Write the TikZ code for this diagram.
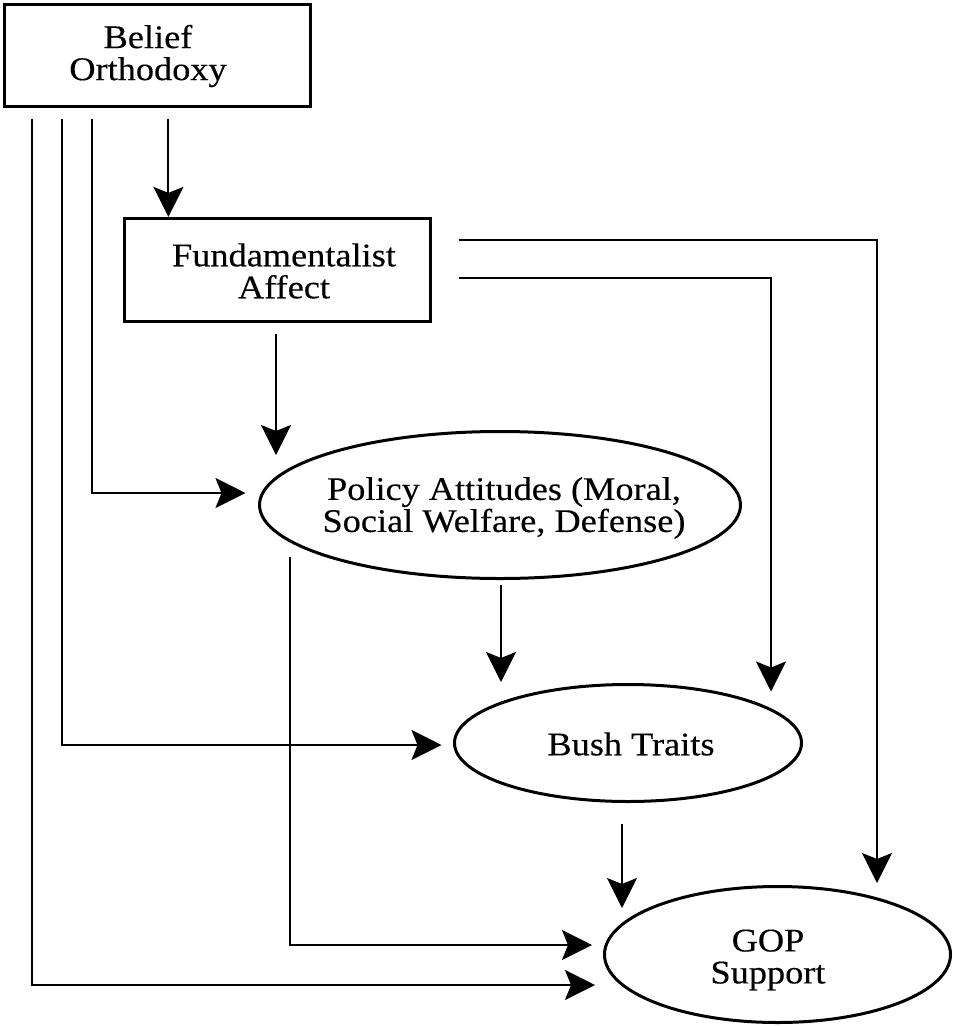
\documentclass[tikz,border=0pt]{standalone}
\usepackage{fontspec}
\setmainfont{Liberation Serif}[FakeStretch=1.1,FakeBold=0.3]
\usetikzlibrary{arrows.meta,shapes.geometric,calc}
\begin{document}
\begin{tikzpicture}[x=1pt,y=-1pt,
  box/.style={draw,line width=3.2pt,rectangle,inner sep=0pt},
  ell/.style={draw,line width=3pt,ellipse,inner sep=0pt},
  lbl/.style={align=center,font=\fontsize{33}{32}\selectfont,inner sep=0pt},
  arr/.style={line width=2pt,-{Stealth[length=30pt,width=30pt,inset=6pt]}},
  ln/.style={line width=2pt}]
\useasboundingbox (0,0) rectangle (953,1026);
% nodes
\node[box,minimum width=306pt,minimum height=102pt] (bo) at (157.5,55.5) {};
\node[lbl] (bot) at (148,56) {Belief\\Orthodoxy};
\node[box,minimum width=306pt,minimum height=103pt] (fa) at (277.5,270) {};
\node[lbl] (fat) at (284,271) {Fundamentalist\\Affect};
\node[ell,minimum width=481pt,minimum height=147pt] (pa) at (500,505) {};
\node[lbl] (pat) at (504,508) {Policy Attitudes (Moral,\\Social Welfare, Defense)};
\node[ell,minimum width=347pt,minimum height=117pt] (bt) at (628,743) {};
\node[lbl] (btt) at (631,744) {Bush Traits};
\node[ell,minimum width=346pt,minimum height=136pt] (gop) at (777.5,954.5) {};
\node[lbl] (gopt) at (768,960) {GOP\\Support};
% start coordinates
\coordinate (b1) at ($(bo.south west)+(29.5,10.5)$);
\coordinate (b2) at ($(bo.south west)+(59.5,10.5)$);
\coordinate (b3) at ($(bo.south west)+(89.5,10.5)$);
\coordinate (b4) at ($(bo.south west)+(165.5,10.5)$);
\coordinate (f1) at ($(fa.north east)+(26.5,23.5)$);
\coordinate (f2) at ($(fa.north east)+(26.5,61.5)$);
\coordinate (f3) at ($(fa.south)+(-1.5,10.5)$);
\coordinate (p1) at ($(pa.center)+(-210,52)$);
\coordinate (p2) at ($(pa.south)+(1,4.5)$);
\coordinate (t1) at ($(bt.south)+(-6,20.5)$);
% end coordinates
\coordinate (g1) at ($(gop.center)+(-182.5,30.5)$);
\coordinate (g2) at ($(gop.center)+(-185.5,-9.5)$);
\coordinate (g3) at ($(gop.north)+(99.5,-2)$);
\coordinate (g4) at ($(gop.north)+(-155.5,23)$);
\coordinate (e1) at ($(bt.west)+(-11.5,2)$);
\coordinate (e2) at ($(bt.north)+(143,8.5)$);
\coordinate (e3) at ($(bt.north)+(-127,-1)$);
\coordinate (a1) at ($(pa.west)+(-12.5,-12)$);
\coordinate (a2) at ($(pa.north)+(-224,25)$);
% connectors
\draw[arr] (b1) |- (g1);
\draw[arr] (b2) |- (e1);
\draw[arr] (b3) |- (a1);
\draw[arr] (b4) -- (b4 |- fa.north);
\draw[arr] (f1) -| (g3);
\draw[arr] (f2) -| (e2);
\draw[arr] (f3) -- (a2);
\draw[arr] (p1) |- (g2);
\draw[arr] (p2) -- (e3);
\draw[arr] (t1) -- (g4);
\end{tikzpicture}
\end{document}
